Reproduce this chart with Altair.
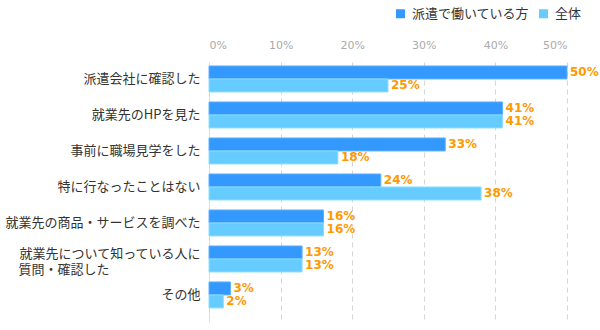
import altair as alt
import pandas as pd

categories = [
    "派遣会社に確認した",
    "就業先のHPを見た",
    "事前に職場見学をした",
    "特に行なったことはない",
    "就業先の商品・サービスを調べた",
    "就業先について知っている人に|質問・確認した",
    "その他",
]
series_names = ["派遣で働いている方", "全体"]
haken = [50, 41, 33, 24, 16, 13, 3]
zentai = [25, 41, 18, 38, 16, 13, 2]
x_ticks = [0, 10, 20, 30, 40, 50]

rows = []
for c, a, b in zip(categories, haken, zentai):
    rows.append({"category": c, "series": series_names[0], "value": a})
    rows.append({"category": c, "series": series_names[1], "value": b})
df = pd.DataFrame(rows)

JP = "Noto Sans CJK JP"
NUM = "DejaVu Sans"

label_expr = (
    "indexof(datum.value,'|')>=0 ? "
    "[split(datum.value,'|')[0], split(datum.value,'|')[1] + '\u3000\u3000\u3000\u3000\u3000\u3000\u3000\u2060'] "
    ": datum.value"
)

y_enc = alt.Y(
    "category:N",
    sort=categories,
    scale=alt.Scale(paddingInner=0.2778, paddingOuter=0.25, align=0.22),
    axis=alt.Axis(
        title=None,
        labelExpr=label_expr,
        labelFont=JP,
        labelFontSize=13,
        labelColor="#333333",
        labelPadding=9,
        labelLineHeight=16,
        labelOffset={"condition": {"test": "indexof(datum.value,'|')>=0", "value": -5}, "value": 0},
        ticks=False,
        domain=True,
        domainColor="#dddddd",
        labelLimit=0,
    ),
)
yoff = alt.YOffset("series:N", sort=series_names, scale=alt.Scale(paddingInner=0, paddingOuter=0))
x_scale = alt.Scale(domain=[0, 50], nice=False)

bars = alt.Chart(df).mark_bar(strokeWidth=1).encode(
    x=alt.X(
        "value:Q",
        scale=x_scale,
        axis=alt.Axis(
            orient="top",
            title=None,
            values=x_ticks,
            labelExpr="datum.value + '%'",
            labelFont=NUM,
            labelFontSize=11,
            labelColor="#aaaaaa",
            labelPadding=12,
            ticks=False,
            domain=False,
            grid=True,
            gridColor="#d5d5d5",
            gridDash=[5, 4],
        ),
    ),
    y=y_enc,
    yOffset=yoff,
    color=alt.Color(
        "series:N",
        sort=series_names,
        scale=alt.Scale(domain=series_names, range=["#3399ff", "#66ccff"]),
        legend=alt.Legend(
            title=None,
            orient="none",
            legendX=185,
            legendY=-55,
            direction="horizontal",
            symbolType="square",
            symbolSize=81,
            symbolStrokeWidth=0,
            labelFont=JP,
            labelFontSize=13,
            labelColor="#333333",
            labelOffset=5,
            columnPadding=7,
        ),
    ),
    stroke=alt.Stroke(
        "series:N",
        sort=series_names,
        scale=alt.Scale(domain=series_names, range=["#5fb2ff", "#8fdcff"]),
        legend=None,
    ),
)

labels = alt.Chart(df).mark_text(
    align="left",
    baseline="middle",
    dx=3,
    font=NUM,
    fontSize=12,
    fontWeight="bold",
    color="#ff9900",
).encode(
    x=alt.X("value:Q", scale=x_scale),
    y=alt.Y("category:N", sort=categories),
    yOffset=alt.YOffset("series:N", sort=series_names),
    text=alt.Text("label:N"),
).transform_calculate(label="datum.value + '%'")

chart = (
    alt.layer(bars, labels)
    .properties(
        width=358,
        height=260,
        autosize=alt.AutoSizeParams(type="none"),
        padding={"left": 209, "top": 62, "right": 33, "bottom": 8},
        background="white",
    )
    .configure_view(stroke=None)
)

chart.save("out.html", embed_options={"renderer": "svg", "actions": False})
